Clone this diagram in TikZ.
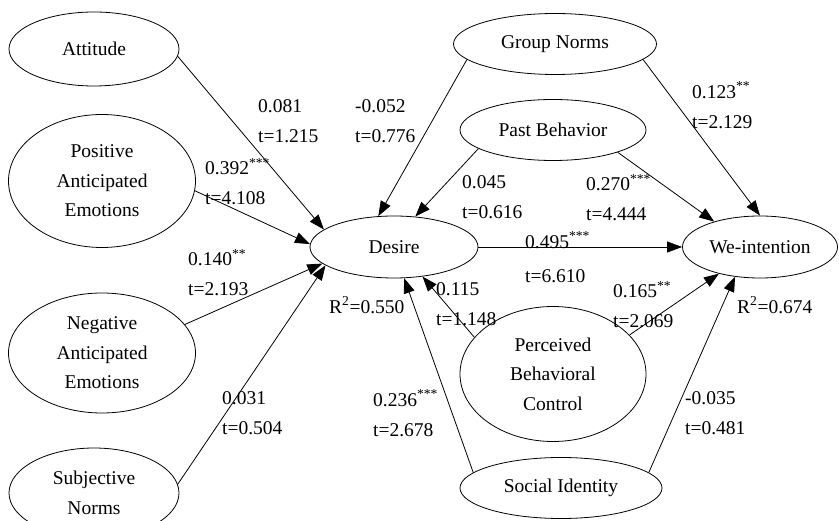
\documentclass[tikz,border=0pt]{standalone}
\usepackage{fontspec}
\setmainfont{Liberation Serif}
\usetikzlibrary{shapes.geometric,arrows.meta}

\begin{document}
\begin{tikzpicture}[x=1pt,y=-1pt,
  construct/.style={draw,ellipse,inner sep=0pt,line width=0.8pt,align=center,font=\fontsize{19.5}{29.5}\selectfont},
  coef/.style={anchor=west,inner sep=0pt,align=left,font=\fontsize{19.5}{30}\selectfont},
  link/.style={-{Triangle[length=15pt,width=11pt]},line width=0.8pt}]
  % Page frame
  \clip (0,0) rectangle (839,521);

  % Constructs on the left
  \node[construct,minimum width=170,minimum height=74] (att) at (94,49) {Attitude};
  \node[construct,minimum width=187,minimum height=133] (pae) at (102,181) {Positive\\Anticipated\\Emotions};
  \node[construct,minimum width=187,minimum height=120] (nae) at (102,353) {Negative\\Anticipated\\Emotions};
  \node[construct,minimum width=170,minimum height=90] (sn) at (94,493) {Subjective\\Norms};

  % Constructs in the middle
  \node[construct,minimum width=168,minimum height=62] (des) at (394,247) {Desire};
  \node[construct,minimum width=203,minimum height=61] (gn) at (555,44) {Group Norms};
  \node[construct,minimum width=186,minimum height=61] (pb) at (553,130) {Past Behavior};
  \node[construct,minimum width=186,minimum height=135] (pbc) at (553,374) {Perceived\\Behavioral\\Control};
  \node[construct,minimum width=202,minimum height=61] (si) at (561,488) {Social Identity};

  % Outcome
  \node[construct,minimum width=155,minimum height=62] (wi) at (760,247) {We-intention};

  % Paths into Desire
  \draw[link] (att.-5) -- (des.166);
  \draw[link] (pae.-6) -- (des.178);
  \draw[link] (nae.19) -- (des.-167);
  \draw[link] (sn.6) -- (des.195);
  \draw[link] (gn.190) -- (des.117);
  \draw[link] (pb.194) -- (des.55);
  \draw[link] (pbc.155) -- (des.-46);
  \draw[link] (si.170) -- (des.-72);

  % Paths into We-intention
  \draw[link] (des.east) -- (wi.west);
  \draw[link] (gn.-10) -- (wi.90);
  \draw[link] (pb.-19) -- (wi.151);
  \draw[link] (pbc.27) -- (wi.-147);
  \draw[link] (si.10) -- (wi.-130);

  % Path coefficients
  \node[coef] (c1) at (258,121) {0.081\\t=1.215};
  \node[coef] (c2) at (355,121) {-0.052\\t=0.776};
  \node[coef] (c3) at (205,181.5) {0.392\textsuperscript{***}\\t=4.108};
  \node[coef] (c4) at (188,272.5) {0.140\textsuperscript{**}\\t=2.193};
  \node[coef] (c5) at (222,413) {0.031\\t=0.504};
  \node[coef] (c6) at (373,413) {0.236\textsuperscript{***}\\t=2.678};
  \node[coef] (c7) at (462,197.5) {0.045\\t=0.616};
  \node[coef] (c8) at (586,197.5) {0.270\textsuperscript{***}\\t=4.444};
  \node[coef] (c9) at (692,105) {0.123\textsuperscript{**}\\t=2.129};
  \node[coef] (c10) at (525,257) {0.495\textsuperscript{***}\\[4pt]t=6.610};
  \node[coef] (c11) at (436,304.5) {0.115\\t=1.148};
  \node[coef] (c12) at (613,304.5) {0.165\textsuperscript{**}\\t=2.069};
  \node[coef] (c13) at (685,413) {-0.035\\t=0.481};

  % Explained variance
  \node[coef] (r1) at (329,305) {R\textsuperscript{2}=0.550};
  \node[coef] (r2) at (737,305) {R\textsuperscript{2}=0.674};
\end{tikzpicture}
\end{document}
